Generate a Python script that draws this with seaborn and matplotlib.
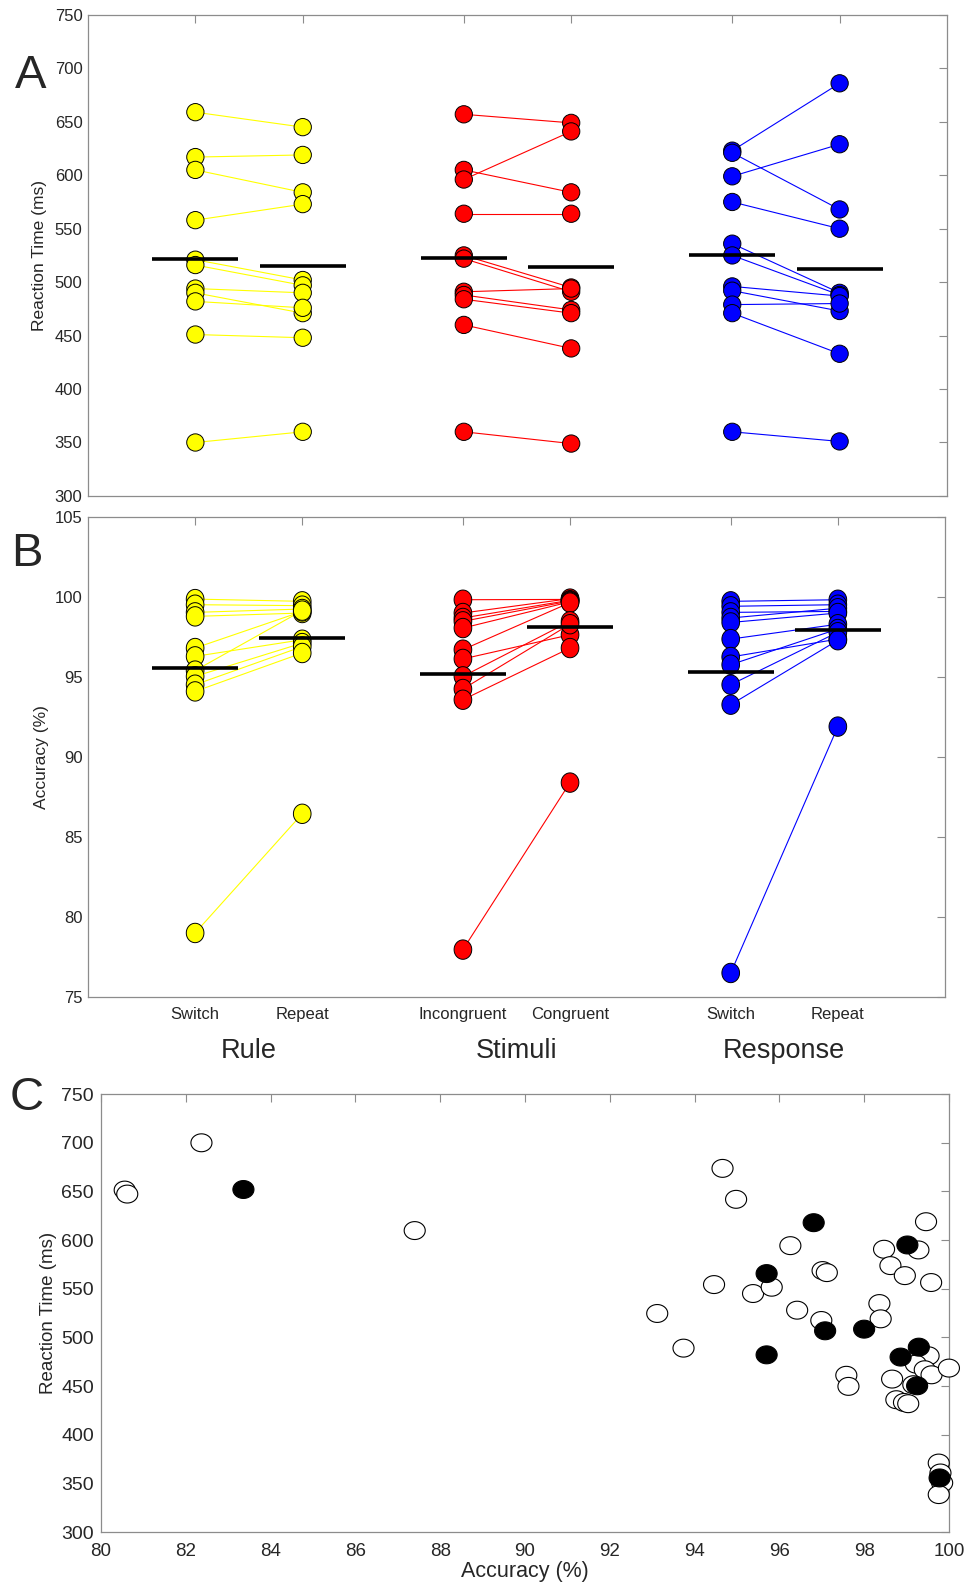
import matplotlib
matplotlib.use("Agg")
import matplotlib.pyplot as plt
import numpy as np
import pandas as pd
import seaborn as sns
from matplotlib.path import Path

# ---- data ----
conditions = ["Switch", "Repeat", "Incongruent", "Congruent", "Switch", "Repeat"]
blocks = ["Rule", "Stimuli", "Response"]
block_colors = {"Rule": "#ffff00", "Stimuli": "#ff0000", "Response": "#0000ff"}

# A: reaction time (ms), one value per subject, paired by index
rt_rule_switch = [659, 617, 605, 558, 521, 516, 494, 490, 482, 451, 350]
rt_rule_repeat = [645, 619, 584, 573, 502, 497, 490, 471, 476, 448, 360]
rt_stim_incong = [657, 605, 596, 564, 525, 522, 491, 488, 484, 460, 360]
rt_stim_cong = [649, 584, 641, 564, 495, 491, 494, 474, 471, 438, 349]
rt_resp_switch = [623, 621, 599, 575, 536, 525, 496, 492, 479, 471, 360]
rt_resp_repeat = [686, 568, 629, 550, 490, 488, 487, 473, 480, 433, 351]
rt_means = [522, 515, 523, 514, 525, 512]

# B: accuracy (%)
acc_rule_switch = [99.87, 99.52, 99.04, 98.79, 96.81, 96.29, 95.40, 95.04, 94.52, 94.10, 79.00]
acc_rule_repeat = [99.73, 99.46, 99.25, 99.00, 99.10, 97.33, 99.15, 97.12, 96.90, 96.50, 86.45]
acc_stim_incong = [99.83, 99.00, 98.69, 98.48, 98.06, 96.71, 96.13, 95.04, 94.25, 93.58, 77.96]
acc_stim_cong = [99.85, 99.90, 99.80, 99.75, 99.70, 99.65, 97.64, 98.48, 98.30, 96.81, 88.40]
acc_resp_switch = [99.73, 99.42, 99.04, 98.69, 98.41, 97.37, 96.25, 95.77, 94.52, 93.27, 76.50]
acc_resp_repeat = [99.83, 99.52, 99.10, 99.30, 99.00, 98.30, 97.37, 98.00, 97.80, 97.30, 91.90]
acc_means = [95.55, 97.45, 95.20, 98.12, 95.30, 97.96]

# C: accuracy vs reaction time
open_acc = [80.56, 80.62, 82.37, 87.40, 94.66, 94.98, 99.46, 96.26, 99.28, 98.47,
            98.62, 98.96, 99.58, 97.02, 97.12, 94.46, 95.38, 95.82, 96.42, 96.99,
            98.36, 98.39, 93.12, 93.74, 99.52, 99.22, 99.43, 99.59, 100.0, 98.66,
            99.16, 97.58, 97.63, 98.76, 98.94, 99.04, 99.76, 99.80, 99.84, 99.76]
open_rt = [651.4, 647.3, 700.0, 609.8, 673.7, 641.9, 618.9, 594.3, 589.9, 590.6,
           573.8, 563.5, 556.4, 568.7, 566.6, 554.3, 545.1, 551.6, 528.0, 517.4,
           534.8, 519.1, 524.6, 489.0, 481.1, 472.6, 466.8, 461.6, 468.5, 457.2,
           451.4, 461.1, 449.7, 436.0, 433.2, 431.9, 370.9, 360.7, 350.5, 338.5]
filled_acc = [83.36, 96.81, 99.02, 95.70, 97.08, 98.00, 95.70, 98.86, 99.29, 99.25, 99.78]
filled_rt = [652.0, 617.9, 595.0, 565.6, 506.8, 508.5, 482.1, 479.8, 490.0, 450.3, 355.6]

XPOS = [1, 2, 3.5, 4.5, 6, 7]
GRAY = "#8c8c8c"


def ellipse_marker(wx, hy):
    t = np.linspace(0, 2 * np.pi, 60)
    return Path(np.column_stack([wx * np.cos(t), hy * np.sin(t)]), closed=True)


def long_table(cols):
    rows = []
    for i, vals in enumerate(cols):
        blk = blocks[i // 2]
        for subj, v in enumerate(vals):
            rows.append({"pos": XPOS[i], "val": v, "block": blk,
                         "pair": f"{blk}_{subj}"})
    return pd.DataFrame(rows)


def style_axes(ax):
    for sp in ax.spines.values():
        sp.set_color(GRAY)
        sp.set_linewidth(0.9)
    ax.tick_params(direction="in", top=True, right=True, length=6, width=0.8,
                   color=GRAY, labelcolor="#262626")


def paired_panel(ax, df, means, marker, size):
    sns.lineplot(data=df, x="pos", y="val", units="pair", estimator=None,
                 hue="block", palette=block_colors, legend=False, lw=0.8,
                 sort=False, ax=ax, zorder=2)
    sns.scatterplot(data=df, x="pos", y="val", hue="block", palette=block_colors,
                    marker=marker, s=size, edgecolor="black", linewidth=0.7,
                    legend=False, ax=ax, zorder=3)
    ax.hlines(means, np.array(XPOS) - 0.4, np.array(XPOS) + 0.4,
              color="black", lw=2.6, zorder=4)
    ax.set_xlim(0, 8)
    ax.set_xticks(XPOS)
    ax.set_xlabel("")
    style_axes(ax)


sns.set_style("white")
plt.rcParams["font.family"] = ["Liberation Sans", "DejaVu Sans"]

fig = plt.figure(figsize=(9.68, 15.85), dpi=100)
axA = fig.add_axes([0.0909, 0.6871, 0.8874, 0.3035])
axB = fig.add_axes([0.0909, 0.3710, 0.8853, 0.3028])
axC = fig.add_axes([0.1043, 0.0334, 0.8760, 0.2763])

# ---- A ----
dfA = long_table([rt_rule_switch, rt_rule_repeat, rt_stim_incong,
                  rt_stim_cong, rt_resp_switch, rt_resp_repeat])
paired_panel(axA, dfA, rt_means, "o", 155)
axA.set_ylim(300, 750)
axA.set_yticks(np.arange(300, 751, 50))
axA.set_xticklabels([])
axA.tick_params(axis="y", labelsize=12, pad=4)
axA.set_ylabel("Reaction Time (ms)", fontsize=12.5, va="center")
axA.yaxis.set_label_coords(-0.056, 0.5)

# ---- B ----
dfB = long_table([acc_rule_switch, acc_rule_repeat, acc_stim_incong,
                  acc_stim_cong, acc_resp_switch, acc_resp_repeat])
paired_panel(axB, dfB, acc_means, ellipse_marker(0.91, 1.0), 195)
axB.set_ylim(75, 105)
axB.set_yticks(np.arange(75, 106, 5))
axB.set_xticklabels(conditions)
axB.tick_params(axis="y", labelsize=12, pad=4)
axB.tick_params(axis="x", labelsize=12, pad=7)
axB.set_ylabel("Accuracy (%)", fontsize=12.5, va="center")
axB.yaxis.set_label_coords(-0.054, 0.5)
for k, name in enumerate(blocks):
    axB.text((XPOS[2 * k] + XPOS[2 * k + 1]) / 2, -0.1125, name,
             transform=axB.get_xaxis_transform(), ha="center", va="center",
             fontsize=19.5)

# ---- C ----
dfC = pd.DataFrame({
    "acc": open_acc + filled_acc,
    "rt": open_rt + filled_rt,
    "kind": ["open"] * len(open_acc) + ["filled"] * len(filled_acc),
})
sns.scatterplot(data=dfC, x="acc", y="rt", hue="kind",
                palette={"open": "white", "filled": "black"},
                marker=ellipse_marker(1.0, 0.85), s=230, edgecolor="black",
                linewidth=0.8, legend=False, ax=axC, clip_on=False, zorder=3)
axC.set_xlim(80, 100)
axC.set_ylim(300, 750)
axC.set_xticks(np.arange(80, 101, 2))
axC.set_yticks(np.arange(300, 751, 50))
style_axes(axC)
axC.tick_params(axis="x", labelsize=13.5, pad=8)
axC.tick_params(axis="y", labelsize=14, pad=5)
axC.set_xlabel("Accuracy (%)", fontsize=15.5, va="center")
axC.xaxis.set_label_coords(0.5, -0.089)
axC.set_ylabel("Reaction Time (ms)", fontsize=13.5, va="center")
axC.yaxis.set_label_coords(-0.062, 0.5)

# panel letters
for letter, (x, y) in {"A": (0.0313, 0.9522), "B": (0.0282, 0.6507),
                       "C": (0.0272, 0.3071)}.items():
    fig.text(x, y, letter, ha="center", va="center", fontsize=34)

fig.savefig("out.png", dpi=100)
plt.close(fig)
